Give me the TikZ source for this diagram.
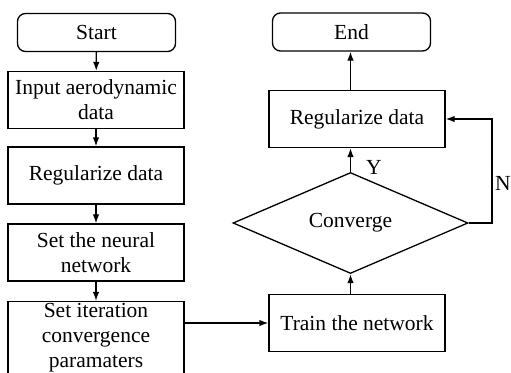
\documentclass[tikz,border=0pt]{standalone}
\usepackage{fontspec}
\setmainfont{Liberation Serif}
\usetikzlibrary{shapes.geometric,arrows.meta,calc}
\begin{document}
\begin{tikzpicture}[x=1pt,y=-1pt,
  txt/.style={font=\fontsize{21.5}{25}\selectfont},
  box/.style={draw,line width=1.3pt,minimum width=176pt,minimum height=57pt,
    align=center,inner sep=2pt,txt},
  term/.style={box,rounded corners=8pt,minimum width=158pt,minimum height=38pt},
  decision/.style={draw,line width=1.3pt,diamond,aspect=2.33,minimum width=235pt,
    minimum height=101pt,inner sep=0pt,txt},
  arr/.style={line width=1.3pt,-{Latex[length=9pt,width=6.5pt]}},
  lbl/.style={txt,inner sep=0pt}]
\useasboundingbox[fill=white] (0,0) rectangle (511,372);
% left column
\node[term] (start) at (96.5,32.5) {Start};
\node[box] (input) at (96,100) {Input aerodynamic\\data};
\node[box] (reg1) at (96,175.5) {Regularize data};
\node[box] (net) at (96,252.5) {Set the neural\\network};
\node[box,minimum height=72pt] (iter) at (96,338) {Set iteration\\convergence\\paramaters};
% right column
\node[term] (endn) at (351.5,32) {End};
\node[box] (reg2) at (357,119) {Regularize data};
\node[decision] (conv) at (350.5,223) {Converge};
\node[box] (train) at (357,323) {Train the network};
% connectors
\draw[arr] (start) -- (input);
\draw[arr] (input) -- (reg1);
\draw[arr] (reg1) -- (net);
\draw[arr] (net) -- (iter);
\draw[arr] (iter.east |- train) -- (train.west);
\draw[arr] (train.north -| conv.south) -- (conv.south);
\draw[arr] (conv.north) -- (conv.north |- reg2.south);
\draw[arr] (conv.north |- reg2.north) -- (endn.south -| conv.north);
\coordinate (loop) at (492,223);
\draw[arr] (conv.east) -- (loop) -- (loop |- reg2.east) -- (reg2.east);
\node[lbl] (ylab) at (374,167) {Y};
\node[lbl] (nlab) at (503,183) {N};
\end{tikzpicture}
\end{document}
